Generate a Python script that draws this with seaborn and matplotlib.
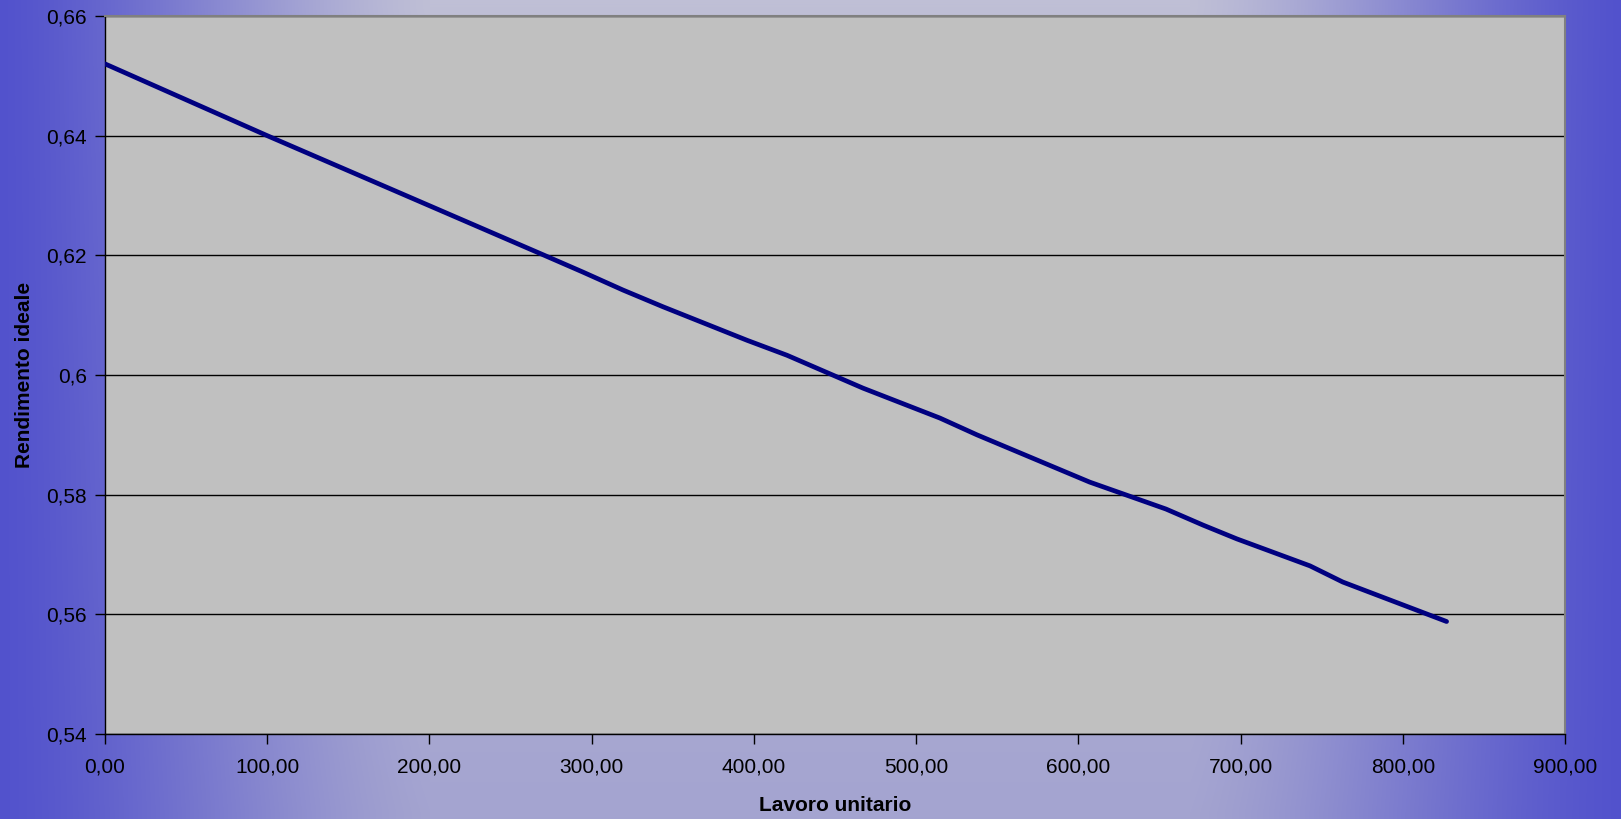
import numpy as np
import pandas as pd
import matplotlib
matplotlib.use("Agg")
import matplotlib.pyplot as plt
from matplotlib.colors import to_rgb
import seaborn as sns

# Ideal efficiency versus unit work
lavoro_unitario = [0.0, 100.0, 270.0, 294.6, 319.3, 344.0, 395.8, 420.4, 467.3,
                   514.7, 537.5, 607.0, 630.0, 654.0, 677.0, 697.8, 742.8, 763.0, 827.0]
rendimento_ideale = [0.6520, 0.6400, 0.6201, 0.6172, 0.6142, 0.6114, 0.6058, 0.6033, 0.5978,
                     0.5928, 0.5900, 0.5821, 0.5799, 0.5776, 0.5749, 0.5726, 0.5681, 0.5654, 0.5588]

x_ticks = [0, 100, 200, 300, 400, 500, 600, 700, 800, 900]
x_tick_labels = ["0,00", "100,00", "200,00", "300,00", "400,00", "500,00",
                 "600,00", "700,00", "800,00", "900,00"]
y_ticks = [0.54, 0.56, 0.58, 0.60, 0.62, 0.64, 0.66]
y_tick_labels = ["0,54", "0,56", "0,58", "0,6", "0,62", "0,64", "0,66"]

df = pd.DataFrame({"Lavoro unitario": lavoro_unitario,
                   "Rendimento ideale": rendimento_ideale})

sns.set_style("white")
plt.rcParams["font.family"] = ["Liberation Sans", "DejaVu Sans"]

W, H, DPI = 1621, 819, 100
fig = plt.figure(figsize=(W / DPI, H / DPI), dpi=DPI)

# Background: blue at the sides, pale lavender in the middle
bg = fig.add_axes([0, 0, 1, 1], zorder=-10)
bg.set_axis_off()
xs = np.arange(W)
ys = np.linspace(0, 1, 60)
d = np.abs(xs - 810)
s = np.clip((d - 380) / 430, 0, 1)
w = s * s * (3 - 2 * s) * 0.5 + s * 0.5
edge = np.array(to_rgb("#5252cc"))
centre_top = np.array(to_rgb("#bfbfd6"))
centre_bot = np.array(to_rgb("#a4a4d0"))
centre = centre_top[None, :] * (1 - ys[:, None]) + centre_bot[None, :] * ys[:, None]
img = centre[:, None, :] * (1 - w[None, :, None]) + edge[None, None, :] * w[None, :, None]
bg.imshow(img, aspect="auto", extent=[0, 1, 0, 1], interpolation="bilinear")

left, right, top, bottom = 105, 1565, 16, 734
ax = fig.add_axes([left / W, 1 - bottom / H, (right - left) / W, (bottom - top) / H])
ax.set_facecolor("#c0c0c0")

sns.lineplot(data=df, x="Lavoro unitario", y="Rendimento ideale", sort=False,
             color="#000080", linewidth=3.4, ax=ax, solid_capstyle="round",
             solid_joinstyle="round", zorder=3)

ax.set_xlim(0, 900)
ax.set_ylim(0.54, 0.66)
ax.set_xticks(x_ticks)
ax.set_xticklabels(x_tick_labels)
ax.set_yticks(y_ticks)
ax.set_yticklabels(y_tick_labels)

ax.yaxis.grid(True, color="#000000", linewidth=1.0, zorder=1)
ax.xaxis.grid(False)
ax.set_axisbelow(True)

for side in ("left", "bottom"):
    ax.spines[side].set_color("#000000")
    ax.spines[side].set_linewidth(1.0)
for side in ("top", "right"):
    ax.spines[side].set_color("#808080")
    ax.spines[side].set_linewidth(1.5)

ax.tick_params(axis="both", which="major", direction="out", length=7, width=1,
               color="#000000", labelsize=15, labelcolor="#000000", pad=6)
ax.tick_params(left=True, bottom=True)
ax.tick_params(axis="x", pad=10)

ax.set_xlabel("Lavoro unitario", fontsize=15, fontweight="bold", color="#000000",
              labelpad=14)
ax.set_ylabel("Rendimento ideale", fontsize=15, fontweight="bold", color="#000000",
              labelpad=9)

fig.savefig("out.png", dpi=DPI)
